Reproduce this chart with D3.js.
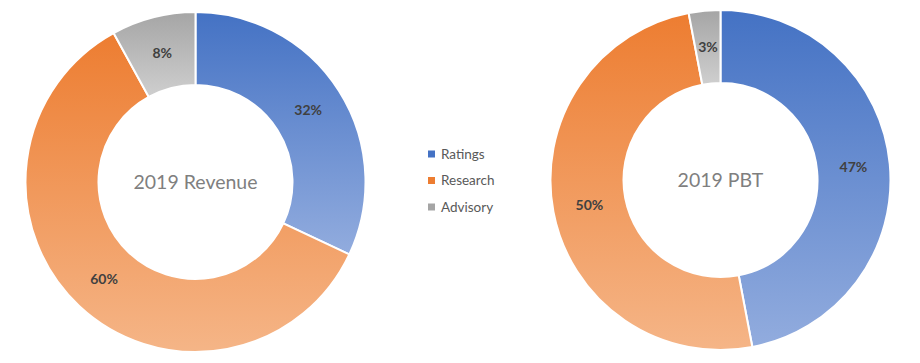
<!DOCTYPE html>
<html>
<head>
<meta charset="utf-8">
<script src="https://cdn.jsdelivr.net/npm/d3@7"></script>
<style>
  body { margin: 0; background: #fff; }
</style>
</head>
<body>
<svg id="chart" width="920" height="363"></svg>
<script>
// Data
const categories = ["Ratings", "Research", "Advisory"];
const revenueValues = [32, 60, 8];
const pbtValues = [47, 50, 3];
const chartTitles = ["2019 Revenue", "2019 PBT"];

// colours: gradient top -> bottom for each category
const colorTop = ["#4472C4", "#ED7D31", "#A5A5A5"];
const colorBottom = ["#92ACDE", "#F5B587", "#CFCFCF"];
const legendColor = ["#4472C4", "#ED7D31", "#A5A5A5"];

const svg = d3.select("#chart");
const font = "Lato, 'Open Sans', sans-serif";

const defs = svg.append("defs");
categories.forEach((c, i) => {
  const g = defs.append("linearGradient")
      .attr("id", "grad" + i)
      .attr("x1", 0).attr("y1", 0)
      .attr("x2", 0).attr("y2", 1);
  g.append("stop").attr("offset", "0%").attr("stop-color", colorTop[i]);
  g.append("stop").attr("offset", "100%").attr("stop-color", colorBottom[i]);
});

const outerR = 170;
const innerR = 97;

const pie = d3.pie().sort(null).value(d => d);
const arc = d3.arc().innerRadius(innerR).outerRadius(outerR);

function donut(values, title, cx, cy) {
  const g = svg.append("g").attr("transform", `translate(${cx},${cy})`);
  const arcs = pie(values);

  g.selectAll("path")
      .data(arcs)
    .enter().append("path")
      .attr("d", arc)
      .attr("fill", (d, i) => `url(#grad${i})`)
      .attr("stroke", "#fff")
      .attr("stroke-width", 2);

  g.selectAll(".lbl")
      .data(arcs)
    .enter().append("text")
      .attr("class", "lbl")
      .attr("transform", d => `translate(${arc.centroid(d)})`)
      .attr("text-anchor", "middle")
      .attr("dy", "0.35em")
      .style("font-family", font)
      .style("font-size", "14px")
      .style("font-weight", "bold")
      .style("fill", "#404040")
      .text(d => d.data + "%");

  g.append("text")
      .attr("text-anchor", "middle")
      .attr("dy", "0.35em")
      .style("font-family", font)
      .style("font-size", "19.5px")
      .style("fill", "#7F7F7F")
      .text(title);
}

donut(revenueValues, chartTitles[0], 195.5, 182);
donut(pbtValues, chartTitles[1], 720.5, 180);

// Legend
const legend = svg.append("g").attr("transform", "translate(428,154)");
const item = legend.selectAll("g")
    .data(categories)
  .enter().append("g")
    .attr("transform", (d, i) => `translate(0,${i * 26.5})`);

item.append("rect")
    .attr("x", 0).attr("y", -3.5)
    .attr("width", 7).attr("height", 7)
    .attr("fill", (d, i) => legendColor[i]);

item.append("text")
    .attr("x", 13)
    .attr("dy", "0.35em")
    .style("font-family", font)
    .style("font-size", "13.5px")
    .style("fill", "#595959")
    .text(d => d);
</script>
</body>
</html>
